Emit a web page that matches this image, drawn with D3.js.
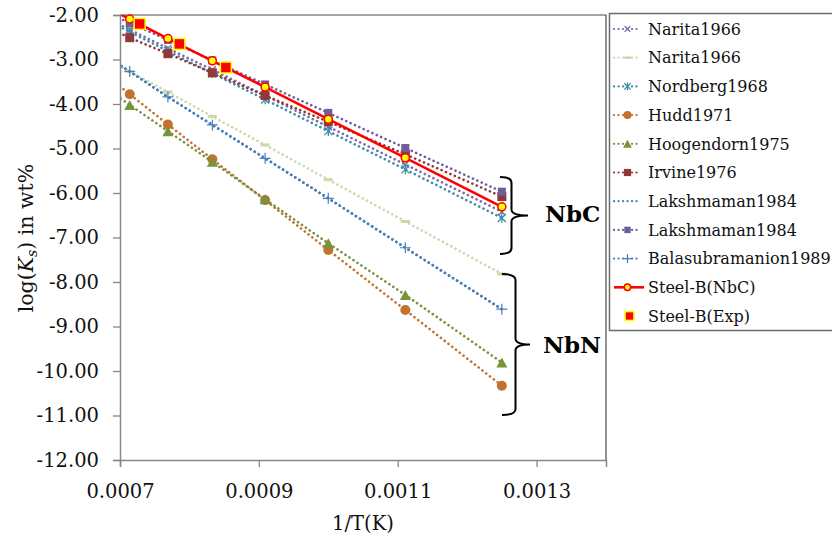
<!DOCTYPE html>
<html>
<head>
<meta charset="utf-8">
<script src="https://cdn.jsdelivr.net/npm/d3@7/dist/d3.min.js"></script>
<style>
  html, body { margin: 0; padding: 0; background: #fff; }
  svg { display: block; font-family: "DejaVu Serif", serif; }
</style>
</head>
<body>
<svg id="chart" width="832" height="537"></svg>
<script>
// 1/T (K^-1) at which the solubility products are evaluated
const invT = [0.000667, 0.000714, 0.000769, 0.000833, 0.000909, 0.001, 0.001111, 0.00125];

// log(Ks) in wt% for each literature source
const narita1966a       = [-1.97, -2.33, -2.75, -3.23, -3.81, -4.51, -5.36, -6.42];
const narita1966b       = [-2.87, -3.27, -3.73, -4.28, -4.92, -5.70, -6.64, -7.82];
const nordberg1968      = [-2.01, -2.38, -2.81, -3.31, -3.90, -4.61, -5.47, -6.56];
const hudd1971          = [-3.20, -3.78, -4.46, -5.24, -6.16, -7.28, -8.63, -10.33];
const hoogendorn1975    = [-3.51, -4.02, -4.61, -5.30, -6.14, -7.13, -8.29, -9.81];
const irvine1976        = [-2.19, -2.51, -2.87, -3.30, -3.81, -4.40, -5.13, -6.08];
const lakshmaman1984a   = [-2.80, -3.27, -3.84, -4.47, -5.22, -6.12, -7.23, -8.61];
const lakshmaman1984b   = [-1.84, -2.18, -2.56, -3.02, -3.56, -4.20, -4.99, -5.97];
const balasubramanion1989 = [-2.80, -3.27, -3.84, -4.47, -5.22, -6.12, -7.23, -8.61];
const steelBNbC         = [-1.72, -2.09, -2.53, -3.03, -3.62, -4.34, -5.21, -6.31];

// Experimental points for Steel-B
const steelBExpInvT = [0.0007283, 0.0007855, 0.0008525];
const steelBExp     = [-2.20, -2.65, -3.18];

// Axis ticks
const xTicks = [0.0007, 0.0009, 0.0011, 0.0013];
const yTicks = [-2, -3, -4, -5, -6, -7, -8, -9, -10, -11, -12];

const svg = d3.select("#chart");
const plotL = 120, plotR = 606, plotT = 15, plotB = 460;

const x = d3.scaleLinear().domain([0.0007, 0.0014]).range([plotL, plotR]);
const y = d3.scaleLinear().domain([-12, -2]).range([plotB, plotT]);

svg.append("defs").append("clipPath").attr("id", "plotClip")
  .append("rect").attr("x", plotL).attr("y", plotT)
  .attr("width", plotR - plotL).attr("height", plotB - plotT);

// plot frame (top and right)
svg.append("path")
  .attr("d", `M${plotL},${plotT}H${plotR}V${plotB}`)
  .attr("fill", "none").attr("stroke", "#4a4a4a").attr("stroke-width", 1.2);

// marker drawing helpers
function drawMarker(g, type, color, cx, cy, scale = 1) {
  const s = scale;
  if (type === "x") {
    const h = 3.5 * s;
    g.append("path").attr("d", `M${cx-h},${cy-h}L${cx+h},${cy+h}M${cx-h},${cy+h}L${cx+h},${cy-h}`)
      .attr("stroke", color).attr("stroke-width", 1.3).attr("fill", "none");
  } else if (type === "dash") {
    g.append("rect").attr("x", cx - 4.5 * s).attr("y", cy - 1.5 * s)
      .attr("width", 9 * s).attr("height", 3 * s).attr("fill", color);
  } else if (type === "star") {
    const h = 4 * s;
    g.append("path").attr("d", `M${cx-h},${cy-h}L${cx+h},${cy+h}M${cx-h},${cy+h}L${cx+h},${cy-h}M${cx},${cy-h*1.2}L${cx},${cy+h*1.2}`)
      .attr("stroke", color).attr("stroke-width", 1.3).attr("fill", "none");
  } else if (type === "circle") {
    g.append("circle").attr("cx", cx).attr("cy", cy).attr("r", 5 * s).attr("fill", color);
  } else if (type === "triangle") {
    const w = 5.5 * s, h = 5 * s;
    g.append("path").attr("d", `M${cx},${cy-h}L${cx+w},${cy+h}L${cx-w},${cy+h}Z`).attr("fill", color);
  } else if (type === "square") {
    g.append("rect").attr("x", cx - 4.5 * s).attr("y", cy - 4.5 * s)
      .attr("width", 9 * s).attr("height", 9 * s).attr("fill", color);
  } else if (type === "smallsquare") {
    g.append("rect").attr("x", cx - 4 * s).attr("y", cy - 4 * s)
      .attr("width", 8 * s).attr("height", 8 * s).attr("fill", color);
  } else if (type === "plus") {
    const h = 5.5 * s;
    g.append("path").attr("d", `M${cx-h},${cy}L${cx+h},${cy}M${cx},${cy-h}L${cx},${cy+h}`)
      .attr("stroke", color).attr("stroke-width", 1.2).attr("fill", "none");
  } else if (type === "ycircle") {
    g.append("circle").attr("cx", cx).attr("cy", cy).attr("r", 4 * s)
      .attr("fill", "#ffff00").attr("stroke", color).attr("stroke-width", 1.5);
  } else if (type === "expsquare") {
    g.append("rect").attr("x", cx - 5.5 * s).attr("y", cy - 5.5 * s)
      .attr("width", 11 * s).attr("height", 11 * s)
      .attr("fill", "#ff0000").attr("stroke", "#ffff00").attr("stroke-width", 1.5);
  }
}

const series = [
  { name: "Narita1966",          xs: invT, ys: narita1966a,        color: "#7d69a8", marker: "x",           dotted: true },
  { name: "Narita1966",          xs: invT, ys: narita1966b,        color: "#c8d9aa", marker: "dash",        dotted: true },
  { name: "Nordberg1968",        xs: invT, ys: nordberg1968,       color: "#3b8ea6", marker: "star",        dotted: true },
  { name: "Hudd1971",            xs: invT, ys: hudd1971,           color: "#c2722e", marker: "circle",      dotted: true },
  { name: "Hoogendorn1975",      xs: invT, ys: hoogendorn1975,     color: "#77933c", marker: "triangle",    dotted: true },
  { name: "Irvine1976",          xs: invT, ys: irvine1976,         color: "#8f3a38", marker: "square",      dotted: true },
  { name: "Lakshmaman1984",      xs: invT, ys: lakshmaman1984a,    color: "#4a7ebb", marker: null,          dotted: true },
  { name: "Lakshmaman1984",      xs: invT, ys: lakshmaman1984b,    color: "#715c9c", marker: "smallsquare", dotted: true },
  { name: "Balasubramanion1989", xs: invT, ys: balasubramanion1989, color: "#4a7ebb", marker: "plus",       dotted: true },
  { name: "Steel-B(NbC)",        xs: invT, ys: steelBNbC,          color: "#ff0000", marker: "ycircle",     dotted: false },
  { name: "Steel-B(Exp)",        xs: steelBExpInvT, ys: steelBExp, color: "#ff0000", marker: "expsquare",   dotted: null }
];

const line = d3.line().x(d => x(d[0])).y(d => y(d[1]));
const plot = svg.append("g");

series.forEach(s => {
  const pts = s.xs.map((v, i) => [v, s.ys[i]]);
  const g = plot.append("g");
  if (s.dotted !== null) {
    const p = g.append("path").datum(pts)
      .attr("clip-path", "url(#plotClip)")
      .attr("d", line).attr("fill", "none").attr("stroke", s.color);
    if (s.dotted) {
      p.attr("stroke-width", 2.6).attr("stroke-dasharray", "0.1,4.7").attr("stroke-linecap", "round");
    } else {
      p.attr("stroke-width", 2.6);
    }
  }
  if (s.marker) {
    pts.filter(d => d[0] >= x.domain()[0] && d[0] <= x.domain()[1])
      .forEach(d => drawMarker(g, s.marker, s.color, x(d[0]), y(d[1])));
  }
});

// axes
const axisColor = "#868686";
const yAxis = svg.append("g").attr("transform", `translate(${plotL},0)`)
  .call(d3.axisLeft(y).tickValues(yTicks).tickSize(7).tickPadding(14).tickFormat(d3.format(".2f")));
const xAxis = svg.append("g").attr("transform", `translate(0,${plotB})`)
  .call(d3.axisBottom(x).tickValues(xTicks).tickSize(7).tickPadding(17).tickFormat(d3.format(".4f")));
[yAxis, xAxis].forEach(a => {
  a.select(".domain").attr("stroke", axisColor).attr("stroke-width", 1.5);
  a.selectAll(".tick line").attr("stroke", axisColor).attr("stroke-width", 1.3);
  a.selectAll(".tick text").attr("fill", "#111").style("font-family", "DejaVu Serif").style("font-size", "19.5px");
});
yAxis.selectAll(".tick text").text(d => d3.format(".2f")(d).replace("\u2212", "-"));

// axis titles
svg.append("text").attr("x", (plotL + plotR) / 2).attr("y", 530)
  .attr("text-anchor", "middle").attr("font-size", "19.5px").attr("fill", "#111").text("1/T(K)");

const yt = svg.append("text").attr("transform", "translate(26,238) rotate(-90)")
  .attr("y", 7).attr("text-anchor", "middle").attr("font-size", "20.5px").attr("fill", "#111");
yt.append("tspan").text("log(");
yt.append("tspan").attr("font-style", "italic").text("K");
yt.append("tspan").attr("font-style", "italic").attr("font-size", "14px").attr("dy", "4").text("s");
yt.append("tspan").attr("dy", "-4").text(") in wt%");

// braces grouping the carbide and nitride curves
function brace(xl, xs, xt, y0, y1) {
  const ym = (y0 + y1) / 2, r = 6;
  return `M${xl},${y0}Q${xs},${y0} ${xs},${y0 + r}L${xs},${ym - r}Q${xs},${ym} ${xt},${ym}` +
         `Q${xs},${ym} ${xs},${ym + r}L${xs},${y1 - r}Q${xs},${y1} ${xl},${y1}`;
}
svg.append("path").attr("d", brace(500, 511.5, 528, 177, 254))
  .attr("fill", "none").attr("stroke", "#000").attr("stroke-width", 2);
svg.append("path").attr("d", brace(502, 515.5, 530, 274, 415))
  .attr("fill", "none").attr("stroke", "#000").attr("stroke-width", 2);
svg.append("text").attr("x", 545).attr("y", 222).attr("font-size", "23px").attr("font-weight", "bold")
  .attr("fill", "#000").text("NbC");
svg.append("text").attr("x", 543).attr("y", 353).attr("font-size", "23px").attr("font-weight", "bold")
  .attr("fill", "#000").text("NbN");

// legend
const legend = svg.append("g");
legend.append("rect").attr("x", 609.5).attr("y", 13.5).attr("width", 240).attr("height", 317)
  .attr("fill", "#fff").attr("stroke", "#6a6a6a").attr("stroke-width", 1.5);
series.forEach((s, i) => {
  const cy = 29 + i * 28.7;
  const g = legend.append("g");
  if (s.dotted !== null) {
    const p = g.append("line").attr("x1", 614).attr("x2", s.dotted ? 641 : 644)
      .attr("y1", cy).attr("y2", cy).attr("stroke", s.color);
    if (s.dotted) p.attr("stroke-width", 2.2).attr("stroke-dasharray", "0.1,4.4").attr("stroke-linecap", "round");
    else p.attr("stroke-width", 2.6);
  }
  if (s.marker) drawMarker(g, s.marker, s.color, s.marker === "expsquare" ? 629.5 : 627.5, cy, 0.8);
  g.append("text").attr("x", 648).attr("y", cy).attr("dy", "0.36em")
    .attr("font-size", "16px").attr("fill", "#111").text(s.name);
});
</script>
</body>
</html>
